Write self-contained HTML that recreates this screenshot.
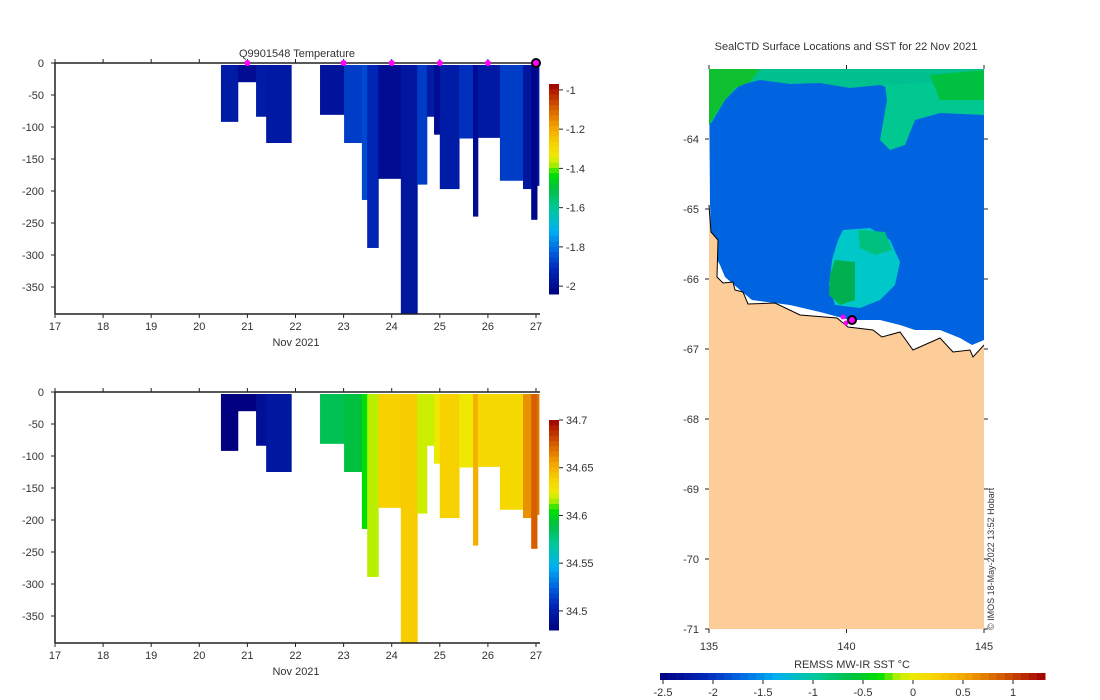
<!DOCTYPE html>
<html><head><meta charset="utf-8"><style>
html,body{margin:0;padding:0;background:#fff;}
svg{display:block;font-family:"Liberation Sans","DejaVu Sans",sans-serif;}
text{fill:#333;font-size:11px;}
</style></head><body>
<svg id="fig" width="1100" height="700" viewBox="0 0 1100 700">
<g id="top"></g>
<g id="bot"></g>
<g id="map"></g>
</svg>
<script>
// profile data
const tStart=[20.45,20.80,21.18,21.39,22.51,23.01,23.38,23.49,23.72,24.19,24.53,24.73,24.88,25.00,25.40,25.69,25.79,26.25,26.73,26.90,27.02];
const tEnd  =[20.80,21.18,21.39,21.91,23.01,23.38,23.49,23.72,24.19,24.53,24.73,24.88,25.00,25.40,25.69,25.79,26.25,26.73,26.90,27.02,27.06];
const depth =[92,30,84,125,81,125,214,289,181,392,190,84,112,197,118,240,117,184,197,245,192];
const temps =[-1.95,-2.0,-1.95,-1.96,-1.98,-1.88,-1.86,-1.92,-2.0,-1.97,-1.88,-1.95,-2.0,-1.95,-1.9,-2.0,-1.96,-1.88,-1.97,-2.02,-1.98];
const sals  =[34.48,34.48,34.49,34.495,34.586,34.59,34.605,34.616,34.638,34.64,34.619,34.618,34.625,34.638,34.625,34.65,34.634,34.634,34.66,34.674,34.668];
const markerDays=[21,23,24,25,26];
const xTicks=[17,18,19,20,21,22,23,24,25,26,27];
const yTicks=[0,-50,-100,-150,-200,-250,-300,-350];
const tTicks=[-1,-1.2,-1.4,-1.6,-1.8,-2];
const sTicks=[34.7,34.65,34.6,34.55,34.5];
const latTicks=[-64,-65,-66,-67,-68,-69,-70,-71];
const lonTicks=[135,140,145];
const sstTicks=[-2.5,-2,-1.5,-1,-0.5,0,0.5,1];

const NS='http://www.w3.org/2000/svg';
function mk(tag,attrs,parent){const e=document.createElementNS(NS,tag);for(const k in attrs)e.setAttribute(k,attrs[k]);parent.appendChild(e);return e;}
const CMS=[[0,[0,0,128]],[0.12,[0,40,184]],[0.2,[0,96,224]],[0.3,[0,176,240]],[0.4,[0,200,160]],[0.5,[0,192,64]],[0.57,[0,224,0]],[0.62,[192,240,0]],[0.66,[240,232,0]],[0.72,[248,208,0]],[0.8,[240,160,0]],[0.9,[208,80,0]],[1,[160,0,0]]];
function jet(t){t=Math.max(0,Math.min(1,t));
 for(let i=1;i<CMS.length;i++){if(t<=CMS[i][0]){const a=CMS[i-1],b=CMS[i],f=(t-a[0])/(b[0]-a[0]);
  const c=a[1].map((v,k)=>Math.round(v+(b[1][k]-v)*f));return `rgb(${c[0]},${c[1]},${c[2]})`;}}
 return 'rgb(160,0,0)';}

function panel(g,y0,vals,vmin,vmax,cbTop,cbBot,cbTicks,title){
 const X=d=>55+(d-17)*48.1;
 const Y=z=>y0-z*0.64;
 for(let i=0;i<tStart.length;i++){
  const r=mk('rect',{x:X(tStart[i]),y:Y(0)+2,width:X(tEnd[i])-X(tStart[i])+0.5,height:depth[i]*0.64-2,fill:jet((vals[i]-vmin)/(vmax-vmin))},g);
  
  
 }
 const bottom=y0+251;
 mk('line',{x1:55,y1:y0,x2:540,y2:y0,stroke:'#222','stroke-width':1.5},g);
 mk('line',{x1:55,y1:y0,x2:55,y2:bottom,stroke:'#222','stroke-width':1.5},g);
 mk('line',{x1:55,y1:bottom,x2:540,y2:bottom,stroke:'#222','stroke-width':1.5},g);
 xTicks.forEach(d=>{
  mk('line',{x1:X(d),y1:bottom,x2:X(d),y2:bottom+4,stroke:'#222'},g);
  mk('line',{x1:X(d),y1:y0,x2:X(d),y2:y0-4,stroke:'#222'},g);
  const t=mk('text',{x:X(d),y:bottom+16,'text-anchor':'middle'},g);t.textContent=d;
  
  
 });
 const xl=mk('text',{x:296,y:bottom+32,'text-anchor':'middle'},g);xl.textContent='Nov 2021';
 
 yTicks.forEach(z=>{
  mk('line',{x1:51,y1:Y(z),x2:55,y2:Y(z),stroke:'#222'},g);
  const t=mk('text',{x:44,y:Y(z)+4,'text-anchor':'end'},g);t.textContent=z;
  
  
 });
 if(title){const t=mk('text',{x:297,y:57,'text-anchor':'middle'},g);t.textContent=title;
  }
 const n=40,h=(cbBot-cbTop)/n;
 for(let i=0;i<n;i++){const v=vmax-(i+0.5)*(vmax-vmin)/n;
  mk('rect',{x:549,y:cbTop+i*h,width:10,height:h+0.5,fill:jet((v-vmin)/(vmax-vmin))},g);}
 const CY=v=>cbTop+(vmax-v)/(vmax-vmin)*(cbBot-cbTop);
 cbTicks.forEach(v=>{mk('line',{x1:559,y1:CY(v),x2:563,y2:CY(v),stroke:'#222'},g);
  const t=mk('text',{x:566,y:CY(v)+4},g);t.textContent=v;
  });
 return X;
}
const topG=document.getElementById('top');
const X1=panel(topG,63,temps,-2.04,-0.97,84,294,tTicks,'Q9901548  Temperature');
markerDays.forEach(d=>{const c=mk('circle',{cx:X1(d),cy:63,r:3,fill:'#f0f'},topG);
 });
const lm=mk('circle',{cx:X1(27),cy:63,r:4,fill:'#f0f',stroke:'#000','stroke-width':2},topG);

panel(document.getElementById('bot'),392,sals,34.48,34.70,420,630,sTicks,null);

// map
const mapG=document.getElementById('map');
const LX=l=>709+(l-135)*27.5;
const LY=l=>139+(-64-l)*70;
mk('rect',{x:709,y:69,width:275,height:560,fill:'#fff'},mapG);
const oc=mk('polygon',{points:'709,69 984,69 984,340 972,345 960,338 940,330 915,330 900,325 880,320 850,320 820,312 790,305 752,300 740,290 725,277 720,265 712,250 710,205',fill:'#0064e0'},mapG);

mk('polygon',{points:'709,69 984,69 984,90 950,92 930,95 900,92 880,85 850,88 820,83 790,84 760,80 740,85 725,100 712,122 709,125',fill:'#00c090'},mapG);
mk('polygon',{points:'709,69 760,69 750,82 735,88 725,100 715,115 709,125',fill:'#10c030'},mapG);
mk('polygon',{points:'885,85 984,80 984,115 940,113 915,120 905,145 890,150 880,140 887,100',fill:'#00c890'},mapG);
mk('polygon',{points:'930,75 984,70 984,100 940,100',fill:'#00c040'},mapG);
mk('polygon',{points:'843,230 870,228 890,240 900,262 895,285 880,300 860,308 835,305 829,285 832,260 838,240',fill:'#00c8c8'},mapG);
mk('polygon',{points:'858,230 885,232 892,250 875,255 860,248',fill:'#00c080'},mapG);
mk('polygon',{points:'835,260 855,262 855,300 840,305 829,295 830,275',fill:'#00b050'},mapG);
const land=mk('polygon',{points:'709,629 709,205 711,232 718,240 717,277 723,283 733,282 735,290 743,292 748,304 775,303 800,315 837,318 848,327 873,330 882,337 900,332 913,350 940,338 953,352 970,350 973,357 984,345 984,629',fill:'#fccc99'},mapG);

mk('polyline',{points:'709,205 711,232 718,240 717,277 723,283 733,282 735,290 743,292 748,304 775,303 800,315 837,318 848,327 873,330 882,337 900,332 913,350 940,338 953,352 970,350 973,357 984,345',fill:'none',stroke:'#000','stroke-width':1},mapG);
mk('circle',{cx:843,cy:317,r:2.5,fill:'#f0f'},mapG);
mk('circle',{cx:846,cy:323,r:2.5,fill:'#f0f'},mapG);
const mp=mk('circle',{cx:852,cy:320,r:4,fill:'#f0f',stroke:'#000','stroke-width':2},mapG);

latTicks.forEach(l=>{mk('line',{x1:705,y1:LY(l),x2:709,y2:LY(l),stroke:'#222'},mapG);
 mk('line',{x1:984,y1:LY(l),x2:988,y2:LY(l),stroke:'#222'},mapG);
 const t=mk('text',{x:699,y:LY(l)+4,'text-anchor':'end'},mapG);t.textContent=l;
 });
lonTicks.forEach(l=>{mk('line',{x1:LX(l),y1:629,x2:LX(l),y2:633,stroke:'#222'},mapG);
 mk('line',{x1:LX(l),y1:65,x2:LX(l),y2:69,stroke:'#222'},mapG);
 const t=mk('text',{x:LX(l),y:650,'text-anchor':'middle'},mapG);t.textContent=l;
 });
const mt=mk('text',{x:846,y:50,'text-anchor':'middle'},mapG);mt.textContent='SealCTD Surface Locations and SST for 22 Nov 2021';

const cr=mk('text',{x:0,y:0,transform:'translate(994,630) rotate(-90)',style:'font-size:9px'},mapG);cr.textContent='© IMOS 18-May-2022 13:52 Hobart';

const smin=-2.53,smax=1.32,SX=v=>663+(v+2.5)*100;
for(let i=0;i<48;i++){const v=smin+(i+0.5)*(smax-smin)/48;
 mk('rect',{x:SX(smin)+i*(SX(smax)-SX(smin))/48,y:673,width:(SX(smax)-SX(smin))/48+0.5,height:7,fill:jet((v-smin)/(smax-smin))},mapG);}
sstTicks.forEach(v=>{mk('line',{x1:SX(v),y1:680,x2:SX(v),y2:684,stroke:'#222'},mapG);
 const t=mk('text',{x:SX(v),y:696,'text-anchor':'middle'},mapG);t.textContent=v;
 });
const st=mk('text',{x:852,y:668,'text-anchor':'middle'},mapG);st.textContent='REMSS MW-IR SST °C';

</script>
</body></html>
